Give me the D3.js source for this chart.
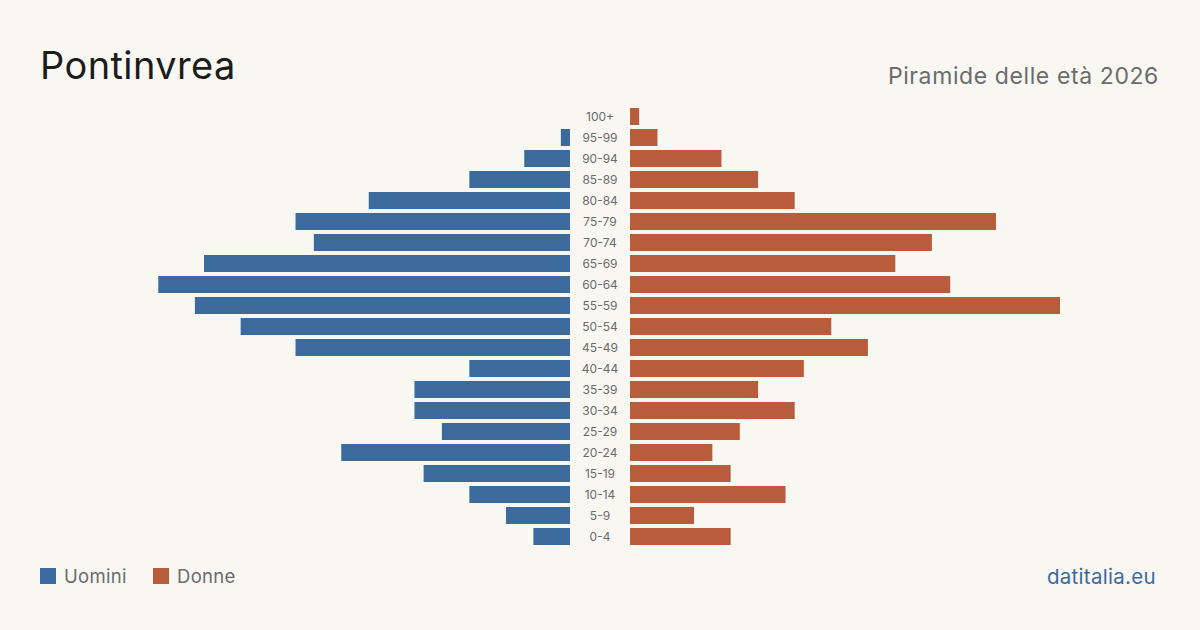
<!DOCTYPE html>
<html><head><meta charset="utf-8">
<script src="https://cdn.jsdelivr.net/npm/d3@7"></script>
<style>
html,body{margin:0;padding:0;background:#f9f7f2;}
svg{display:block;}
text{font-family:Inter,"Liberation Sans",sans-serif;}
</style></head>
<body>
<script>
const ageGroups = ["100+","95-99","90-94","85-89","80-84","75-79","70-74","65-69","60-64","55-59","50-54","45-49","40-44","35-39","30-34","25-29","20-24","15-19","10-14","5-9","0-4"];
const men   = [0,1,5,11,22,30,28,40,45,41,36,30,11,17,17,14,25,16,11,7,4];
const women = [1,3,10,14,18,40,33,29,35,47,22,26,19,14,18,12,9,11,17,7,11];
const seriesNames = ["Uomini","Donne"];
const colors = {men:"#3b6a9b", women:"#b85c3c"};

const W=1200,H=630;
const svg=d3.select("body").append("svg").attr("width",W).attr("height",H);
svg.append("rect").attr("width",W).attr("height",H).attr("fill","#f9f7f2");

const maxV=d3.max(men.concat(women));
const y=d3.scaleBand().domain(ageGroups).range([106,547]).paddingInner(0.19).paddingOuter(0.095);
const xL=d3.scaleLinear().domain([0,maxV]).range([570,140]);
const xR=d3.scaleLinear().domain([0,maxV]).range([630,1060]);

svg.append("g").selectAll("rect").data(ageGroups).join("rect")
  .attr("x",(d,i)=>xL(men[i])).attr("y",d=>y(d))
  .attr("width",(d,i)=>xL(0)-xL(men[i])).attr("height",y.bandwidth())
  .attr("fill",colors.men);
svg.append("g").selectAll("rect").data(ageGroups).join("rect")
  .attr("x",xR(0)).attr("y",d=>y(d))
  .attr("width",(d,i)=>xR(women[i])-xR(0)).attr("height",y.bandwidth())
  .attr("fill",colors.women);

svg.append("g").selectAll("text").data(ageGroups).join("text")
  .attr("x",600).attr("y",d=>y(d)+y.bandwidth()/2).attr("dy","0.35em")
  .attr("text-anchor","middle").attr("font-size",12).attr("fill","#6b6b6b").text(d=>d);

svg.append("text").attr("x",40).attr("y",79).attr("font-size",38).attr("letter-spacing",0.4).attr("fill","#1c1c1c").text("Pontinvrea");
svg.append("text").attr("x",1159).attr("y",84).attr("text-anchor","end").attr("font-size",23).attr("letter-spacing",0.6).attr("fill","#6b6b6b").text("Piramide delle età 2026");

const leg=svg.append("g");
[[40,colors.men,seriesNames[0]],[153,colors.women,seriesNames[1]]].forEach(([x,c,t])=>{
  leg.append("rect").attr("x",x).attr("y",568).attr("width",16).attr("height",16).attr("fill",c);
  leg.append("text").attr("x",x+24).attr("y",577).attr("dy","0.35em").attr("font-size",18.5).attr("letter-spacing",0.3).attr("fill","#6b6b6b").text(t);
});
svg.append("text").attr("x",1156).attr("y",577).attr("dy","0.35em").attr("text-anchor","end").attr("font-size",20.5).attr("letter-spacing",0.3).attr("fill","#3b6a9b").text("datitalia.eu");
</script>
</body></html>
